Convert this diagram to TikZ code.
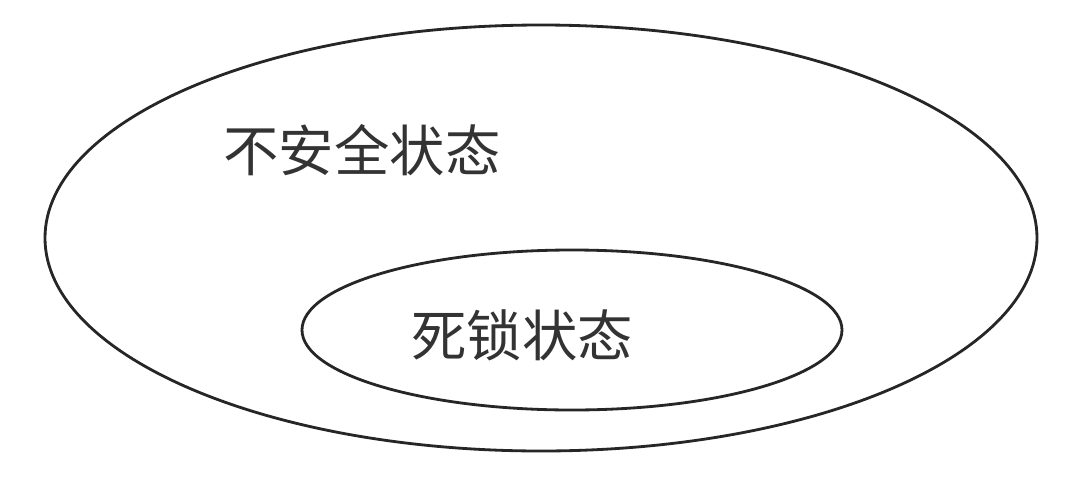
\documentclass[tikz,border=0pt]{standalone}
\usepackage{fontspec}
\newfontfamily\cjk{Noto Sans CJK SC}
\begin{document}
\begin{tikzpicture}[x=0.02cm,y=-0.02cm,
  ring/.style={draw=black!85,line width=1.6pt},
  lbl/.style={font=\cjk\fontsize{31.5}{36}\selectfont,text=black!80,inner sep=0pt}]
\useasboundingbox[fill=white] (0,0) rectangle (1080,491);
\draw[ring] (541,238) ellipse [x radius=496, y radius=213];
\draw[ring] (572,330) ellipse [x radius=270, y radius=80];
\node[lbl] (unsafe) at (362,150) {不安全状态};
\node[lbl] (dead) at (522,335) {死锁状态};
\end{tikzpicture}
\end{document}
